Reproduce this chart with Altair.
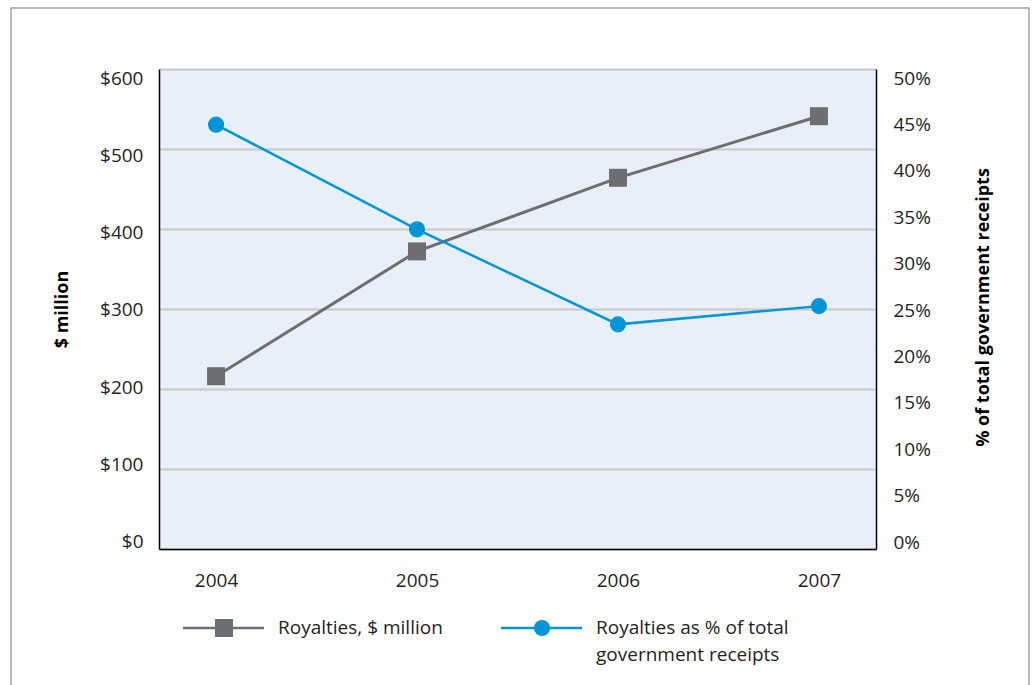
import altair as alt
import pandas as pd

# Values per year
years = ["2004", "2005", "2006", "2007"]
royalties_musd = [216, 372, 464, 541]          # Royalties, $ million
royalties_pct = [44.2, 33.3, 23.4, 25.3]       # % of total government receipts

left_ticks = [0, 100, 200, 300, 400, 500, 600]
right_ticks = [0, 5, 10, 15, 20, 25, 30, 35, 40, 45, 50]

series_labels = [
    ["Royalties, $ million"],
    ["Royalties as % of total", "government receipts"],
]
left_title = "$ million"
right_title = "% of total government receipts"

GRAY = "#6d6e71"
BLUE = "#0096d6"
TEXT = "#231f20"
FONT = "Open Sans"
W, H = 717, 480

df = pd.DataFrame({"year": years, "musd": royalties_musd, "pct": royalties_pct})

x_enc = alt.X(
    "year:O",
    scale=alt.Scale(type="point", padding=0.284),
    axis=alt.Axis(
        title=None, ticks=False, labelAngle=0, labelPadding=22,
        domainColor="black", domainWidth=1.5, labelFontSize=19,
        labelColor=TEXT, labelFont=FONT,
    ),
)

base = alt.Chart(df).encode(x=x_enc)

# Tick labels are spread slightly tighter than the gridlines
y_left = alt.Y(
    "musd:Q",
    scale=alt.Scale(domain=[0, 600], nice=False),
    axis=alt.Axis(
        values=left_ticks, labelExpr="'$' + datum.value", ticks=False,
        labelPadding=16, grid=True, gridColor="#c8c8c8", gridWidth=2,
        labelOffset={"condition": {"test": "false", "value": 0},
                     "expr": "-7.5 + 0.0275 * datum.value"},
        domainColor="black", domainWidth=1.5, labelFontSize=19,
        labelColor=TEXT, labelFont=FONT, title=left_title,
        titleFont=FONT, titleFontSize=18, titleFontWeight="bold",
        titleColor="black", titleX=-97, titleY=H / 2, titleAngle=270,
        titleBaseline="middle", titleAlign="center",
    ),
)

y_right = alt.Y(
    "pct:Q",
    scale=alt.Scale(domain=[0, 50], nice=False),
    axis=alt.Axis(
        orient="right", values=right_ticks, labelExpr="datum.value + '%'",
        ticks=False, labelPadding=17, grid=False,
        labelOffset={"condition": {"test": "false", "value": 0},
                     "expr": "-7 + 0.32 * datum.value"},
        domainColor="black", domainWidth=1.5, labelFontSize=19,
        labelColor=TEXT, labelFont=FONT, title=right_title,
        titleFont=FONT, titleFontSize=18, titleFontWeight="bold",
        titleColor="black", titleX=107, titleY=H / 2 - 2, titleAngle=270,
        titleBaseline="middle", titleAlign="center",
    ),
)

left = alt.layer(
    base.mark_line(color=GRAY, strokeWidth=3).encode(y=y_left),
    base.mark_square(color=GRAY, size=324, opacity=1).encode(y="musd:Q"),
)
right = alt.layer(
    base.mark_line(color=BLUE, strokeWidth=2.5).encode(y=y_right),
    base.mark_circle(color=BLUE, size=260, opacity=1).encode(y="pct:Q"),
)

# Hand-placed legend below the plot
leg_y = 628 - 69


def legend_entry(labels, color, symbol, x0):
    one = alt.Chart(pd.DataFrame({"k": [0]}))
    line = one.mark_rule(color=color, strokeWidth=2.5).encode(
        x=alt.value(x0), x2=alt.value(x0 + 81), y=alt.value(leg_y)
    )
    if symbol == "square":
        sym = one.mark_square(color=color, size=324, opacity=1)
    else:
        sym = one.mark_circle(color=color, size=260, opacity=1)
    sym = sym.encode(x=alt.value(x0 + 41), y=alt.value(leg_y))
    txt = alt.Chart(pd.DataFrame({"k": [0]})).mark_text(
        text=labels if len(labels) > 1 else labels[0],
        align="left", baseline="alphabetic", font=FONT, fontSize=19,
        color=TEXT, lineHeight=27,
    ).encode(x=alt.value(x0 + 95), y=alt.value(leg_y + 6))
    return [line, sym, txt]


legend_layers = (
    legend_entry(series_labels[0], GRAY, "square", 183 - 159)
    + legend_entry(series_labels[1], BLUE, "circle", 501 - 159)
)

frame = alt.Chart(pd.DataFrame({"k": [0]})).mark_rect(
    fill=None, stroke="#a0a0a0", strokeWidth=1.5
).encode(
    x=alt.value(11 - 159), x2=alt.value(1029 - 159),
    y=alt.value(8 - 69), y2=alt.value(720 - 69),
)

chart = (
    alt.layer(left, right, *legend_layers, frame)
    .resolve_scale(y="independent")
    .properties(
        width=W, height=H,
        autosize=alt.AutoSizeParams(type="none"),
        padding={"left": 159, "top": 69, "right": 1032 - 159 - W, "bottom": 685 - 69 - H},
        background="white",
    )
    .configure_view(fill="#e8eff9", stroke=None)
)

chart.save("out.html", embed_options={"renderer": "svg", "actions": False})
